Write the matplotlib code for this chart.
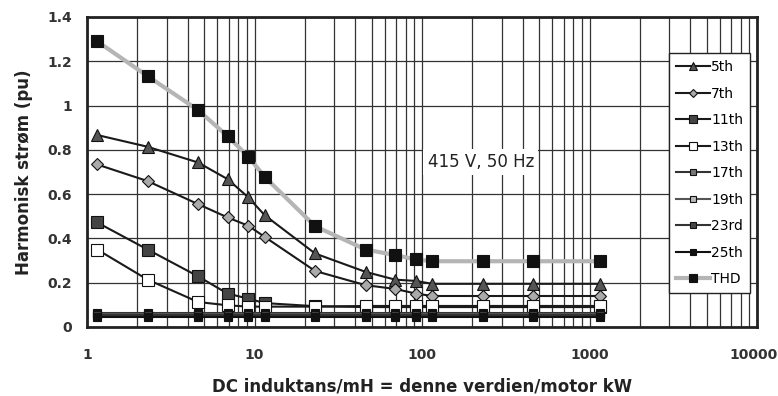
import matplotlib
matplotlib.use("Agg")
import matplotlib.pyplot as plt
import matplotlib.transforms as mtransforms
from matplotlib.ticker import LogLocator, FixedLocator, NullFormatter

# induktans (mH) - samme x for alle serier
induktans = [1.15, 2.3, 4.6, 6.9, 9.2, 11.5, 23, 46, 69, 92, 115, 230, 460, 1150]

h5 = [0.867, 0.814, 0.743, 0.668, 0.585, 0.505, 0.332, 0.249, 0.214, 0.208, 0.195, 0.195, 0.195, 0.195]
h7 = [0.734, 0.659, 0.555, 0.495, 0.457, 0.407, 0.253, 0.189, 0.172, 0.151, 0.14, 0.14, 0.14, 0.14]
h11 = [0.472, 0.35, 0.229, 0.151, 0.128, 0.108, 0.094, 0.09, 0.09, 0.09, 0.09, 0.09, 0.09, 0.09]
h13 = [0.35, 0.214, 0.113, 0.098, 0.092, 0.092, 0.092, 0.095, 0.095, 0.095, 0.095, 0.095, 0.095, 0.095]
h17 = [0.065] * 14
h19 = [0.06] * 14
h23 = [0.052] * 14
h25 = [0.045] * 14
thd = [1.29, 1.133, 0.98, 0.862, 0.769, 0.678, 0.455, 0.35, 0.325, 0.305, 0.297, 0.297, 0.297, 0.297]

labels = ["5th", "7th", "11th", "13th", "17th", "19th", "23rd", "25th", "THD"]

fig = plt.figure(figsize=(7.78, 3.96), dpi=100)
ax = fig.add_axes([87 / 778, 1 - 327 / 396, (757 - 87) / 778, (327 - 17) / 396])

# serier: (data, markør, fyllfarge, størrelse, linjefarge, linjebredde)
serier = [
    (h5, "^", "#555555", 9, "#1a1a1a", 1.5),
    (h7, "D", "#aaaaaa", 6, "#1a1a1a", 1.5),
    (h11, "s", "#444444", 9, "#1a1a1a", 1.5),
    (h13, "s", "#ffffff", 9, "#1a1a1a", 1.5),
    (h17, "s", "#777777", 6, "#333333", 1.5),
    (h19, "s", "#bbbbbb", 6, "#555555", 1.5),
    (h23, "s", "#444444", 6, "#333333", 1.5),
    (h25, "s", "#111111", 6, "#111111", 1.5),
    (thd, "s", "#111111", 8, "#b5b5b5", 3.0),
]

for (data, m, fc, ms, lc, lw), lab in zip(serier, labels):
    ax.plot(induktans, data, color=lc, linewidth=lw, marker=m, markersize=ms,
            markerfacecolor=fc, markeredgecolor="#111111", markeredgewidth=0.8,
            label=lab, zorder=3)

ax.set_xscale("log")
ax.set_xlim(1, 10000)
ax.set_ylim(0, 1.4)
ax.set_yticks([0, 0.2, 0.4, 0.6, 0.8, 1.0, 1.2, 1.4])
ax.set_yticklabels(["0", "0.2", "0.4", "0.6", "0.8", "1", "1.2", "1.4"])
ax.xaxis.set_major_locator(FixedLocator([1, 10, 100, 1000, 10000]))
ax.set_xticklabels(["1", "10", "100", "1000", "10000"])
ax.xaxis.set_minor_locator(LogLocator(base=10, subs=range(2, 10)))
ax.xaxis.set_minor_formatter(NullFormatter())

ax.grid(True, which="both", axis="x", color="#333333", linewidth=0.9)
ax.grid(True, which="major", axis="y", color="#333333", linewidth=0.9)
ax.set_axisbelow(True)
for s in ax.spines.values():
    s.set_linewidth(2)
    s.set_color("#222222")

ax.tick_params(axis="both", which="both", length=0, labelcolor="#333333")
ax.tick_params(axis="y", pad=11)
ax.tick_params(axis="x", pad=15)
for t in ax.get_xticklabels() + ax.get_yticklabels():
    t.set_fontweight("bold")
    t.set_fontsize(10)

# siste x-etikett litt til venstre så den ikke kappes
siste = ax.get_xticklabels()[-1]
siste.set_transform(siste.get_transform() + mtransforms.ScaledTranslation(-3 / 100, 0, fig.dpi_scale_trans))

ax.set_ylabel("Harmonisk strøm (pu)", fontsize=12, fontweight="bold", color="#222222", labelpad=10)
ax.set_xlabel("DC induktans/mH = denne verdien/motor kW", fontsize=12, fontweight="bold",
              color="#222222", labelpad=11)

ax.text(108, 0.745, "415 V, 50 Hz", fontsize=12, color="#222222", va="center", ha="left",
        bbox=dict(facecolor="white", edgecolor="none", pad=3), zorder=4)

leg = ax.legend(loc="upper right", bbox_to_anchor=(1.0, 0.905), fontsize=10,
                frameon=True, fancybox=False, edgecolor="#222222", framealpha=1,
                handlelength=2.4, handletextpad=0.1, labelspacing=0.9, borderpad=0.5,
                markerscale=0.7)
leg.get_frame().set_linewidth(1)
leg.set_zorder(5)

fig.savefig("out.png", dpi=100)
